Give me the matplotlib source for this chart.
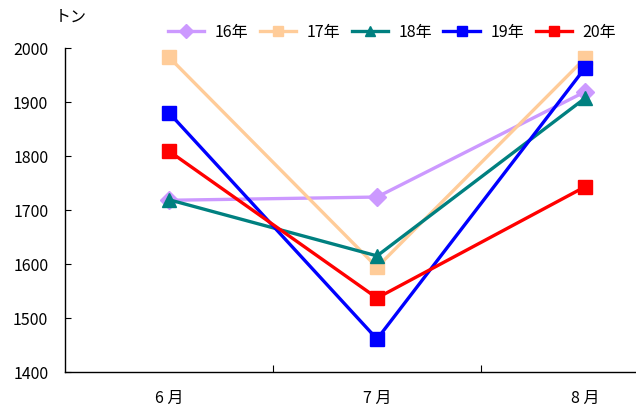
import matplotlib
matplotlib.use("Agg")
import matplotlib.pyplot as plt

plt.rcParams['font.family'] = ['Noto Sans CJK JP', 'DejaVu Sans']

months = ["6 月", "7 月", "8 月"]
series_names = ["16年", "17年", "18年", "19年", "20年"]
v16 = [1718, 1724, 1919]
v17 = [1983, 1594, 1981]
v18 = [1719, 1615, 1907]
v19 = [1880, 1461, 1963]
v20 = [1809, 1537, 1743]
yticks = [1400, 1500, 1600, 1700, 1800, 1900, 2000]

series = [v16, v17, v18, v19, v20]
colors = ["#CC99FF", "#FFCC99", "#008080", "#0000FF", "#FF0000"]
markers = ["D", "s", "^", "s", "s"]
msizes = [9, 10, 10, 10, 10]

fs = 11.5
fig = plt.figure(figsize=(6.36, 4.11), dpi=100)
ax = fig.add_axes([65 / 636, 39 / 411, 571 / 636, 324 / 411])
x = list(range(len(months)))
for vals, name, c, m, ms in zip(series, series_names, colors, markers, msizes):
    ax.plot(x, vals, color=c, lw=2.4, marker=m, markersize=ms, label=name)

ax.set_xlim(-0.5, 2.245)
ax.set_ylim(1400, 2000)
ax.set_yticks(yticks)
ax.set_yticklabels([str(t) for t in yticks], fontsize=fs)
ax.tick_params(axis='y', direction='in', length=4, pad=12)
ax.set_xticks([0.5, 1.5])
ax.set_xticklabels([])
ax.tick_params(axis='x', which='major', direction='in', length=5)
ax.set_xticks(x, minor=True)
ax.set_xticklabels(months, minor=True, fontsize=fs)
ax.tick_params(axis='x', which='minor', length=0, pad=13)
for s in ["top", "right"]:
    ax.spines[s].set_visible(False)
for s in ["left", "bottom"]:
    ax.spines[s].set_linewidth(1.0)

fig.text(55 / 636, 1 - 17.5 / 411, "トン", fontsize=fs, ha='left', va='center')
leg = fig.legend(loc='center', bbox_to_anchor=(392 / 636, 1 - 32 / 411), ncol=5, frameon=False,
                 fontsize=fs, handlelength=2.3, columnspacing=0.7, handletextpad=0.65,
                 borderpad=0, borderaxespad=0, markerscale=0.75)
fig.savefig("out.png", dpi=100)
